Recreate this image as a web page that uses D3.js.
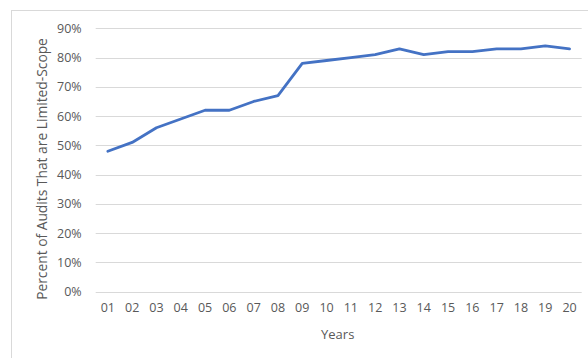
<!DOCTYPE html>
<html>
<head>
<meta charset="utf-8">
<script src="https://cdn.jsdelivr.net/npm/d3@7"></script>
<style>
  html, body { margin: 0; padding: 0; background: #fff; }
  svg { display: block; }
  text { font-family: "Open Sans", "Segoe UI", sans-serif; fill: #595959; }
</style>
</head>
<body>
<svg id="chart" width="588" height="358"></svg>
<script>
// Share of audits that are limited-scope, by year
const years = ["01","02","03","04","05","06","07","08","09","10",
               "11","12","13","14","15","16","17","18","19","20"];
const limitedScope = [48, 51, 56, 59, 62, 62, 65, 67, 78, 79,
                      80, 81, 83, 81, 82, 82, 83, 83, 84, 83];
const yTicks = [0, 10, 20, 30, 40, 50, 60, 70, 80, 90];

const svg = d3.select("#chart");
const W = 588, H = 358;
const margin = { left: 95.7, right: 6.3, top: 28.3, bottom: 66.3 };

// Chart frame
svg.append("rect")
  .attr("x", 11.5).attr("y", 10.5)
  .attr("width", W + 10).attr("height", H + 10)
  .attr("fill", "#fff").attr("stroke", "#d9d9d9").attr("stroke-width", 1);

const x = d3.scaleBand()
  .domain(years)
  .range([margin.left, W - margin.right])
  .padding(0);

const y = d3.scaleLinear()
  .domain([0, 90])
  .range([H - margin.bottom, margin.top]);

// Horizontal gridlines
svg.append("g")
  .selectAll("line")
  .data(yTicks)
  .join("line")
  .attr("x1", margin.left).attr("x2", W - margin.right)
  .attr("y1", d => Math.round(y(d)) + 0.5)
  .attr("y2", d => Math.round(y(d)) + 0.5)
  .attr("stroke", "#d9d9d9").attr("stroke-width", 1);

// Y axis labels
const yAxis = d3.axisLeft(y)
  .tickValues(yTicks)
  .tickFormat(d => d + "%")
  .tickSize(0)
  .tickPadding(14);
const gy = svg.append("g")
  .attr("transform", `translate(${margin.left},0)`)
  .call(yAxis);
gy.select(".domain").remove();
gy.selectAll("text")
  .attr("font-size", 12.5)
  .style("font-family", '"Open Sans", sans-serif')
  .attr("fill", "#595959");

// X axis labels
const xAxis = d3.axisBottom(x).tickSize(0).tickPadding(11);
const gx = svg.append("g")
  .attr("transform", `translate(0,${H - margin.bottom})`)
  .call(xAxis);
gx.select(".domain").remove();
gx.selectAll("text")
  .attr("font-size", 12.5)
  .style("font-family", '"Open Sans", sans-serif')
  .attr("fill", "#595959");

// Series line
const line = d3.line()
  .x((d, i) => x(years[i]) + x.bandwidth() / 2)
  .y(d => y(d));

svg.append("path")
  .datum(limitedScope)
  .attr("d", line)
  .attr("fill", "none")
  .attr("stroke", "#4472c4")
  .attr("stroke-width", 2.8)
  .attr("stroke-linejoin", "round")
  .attr("stroke-linecap", "round");

// Axis titles
svg.append("text")
  .attr("x", (margin.left + W - margin.right) / 2 - 1)
  .attr("y", 339)
  .attr("text-anchor", "middle")
  .attr("font-size", 13)
  .text("Years");

svg.append("text")
  .attr("transform", "translate(47,169) rotate(-90)")
  .attr("text-anchor", "middle")
  .attr("font-size", 13.8)
  .text("Percent of Audits That are Limited-Scope");
</script>
</body>
</html>
